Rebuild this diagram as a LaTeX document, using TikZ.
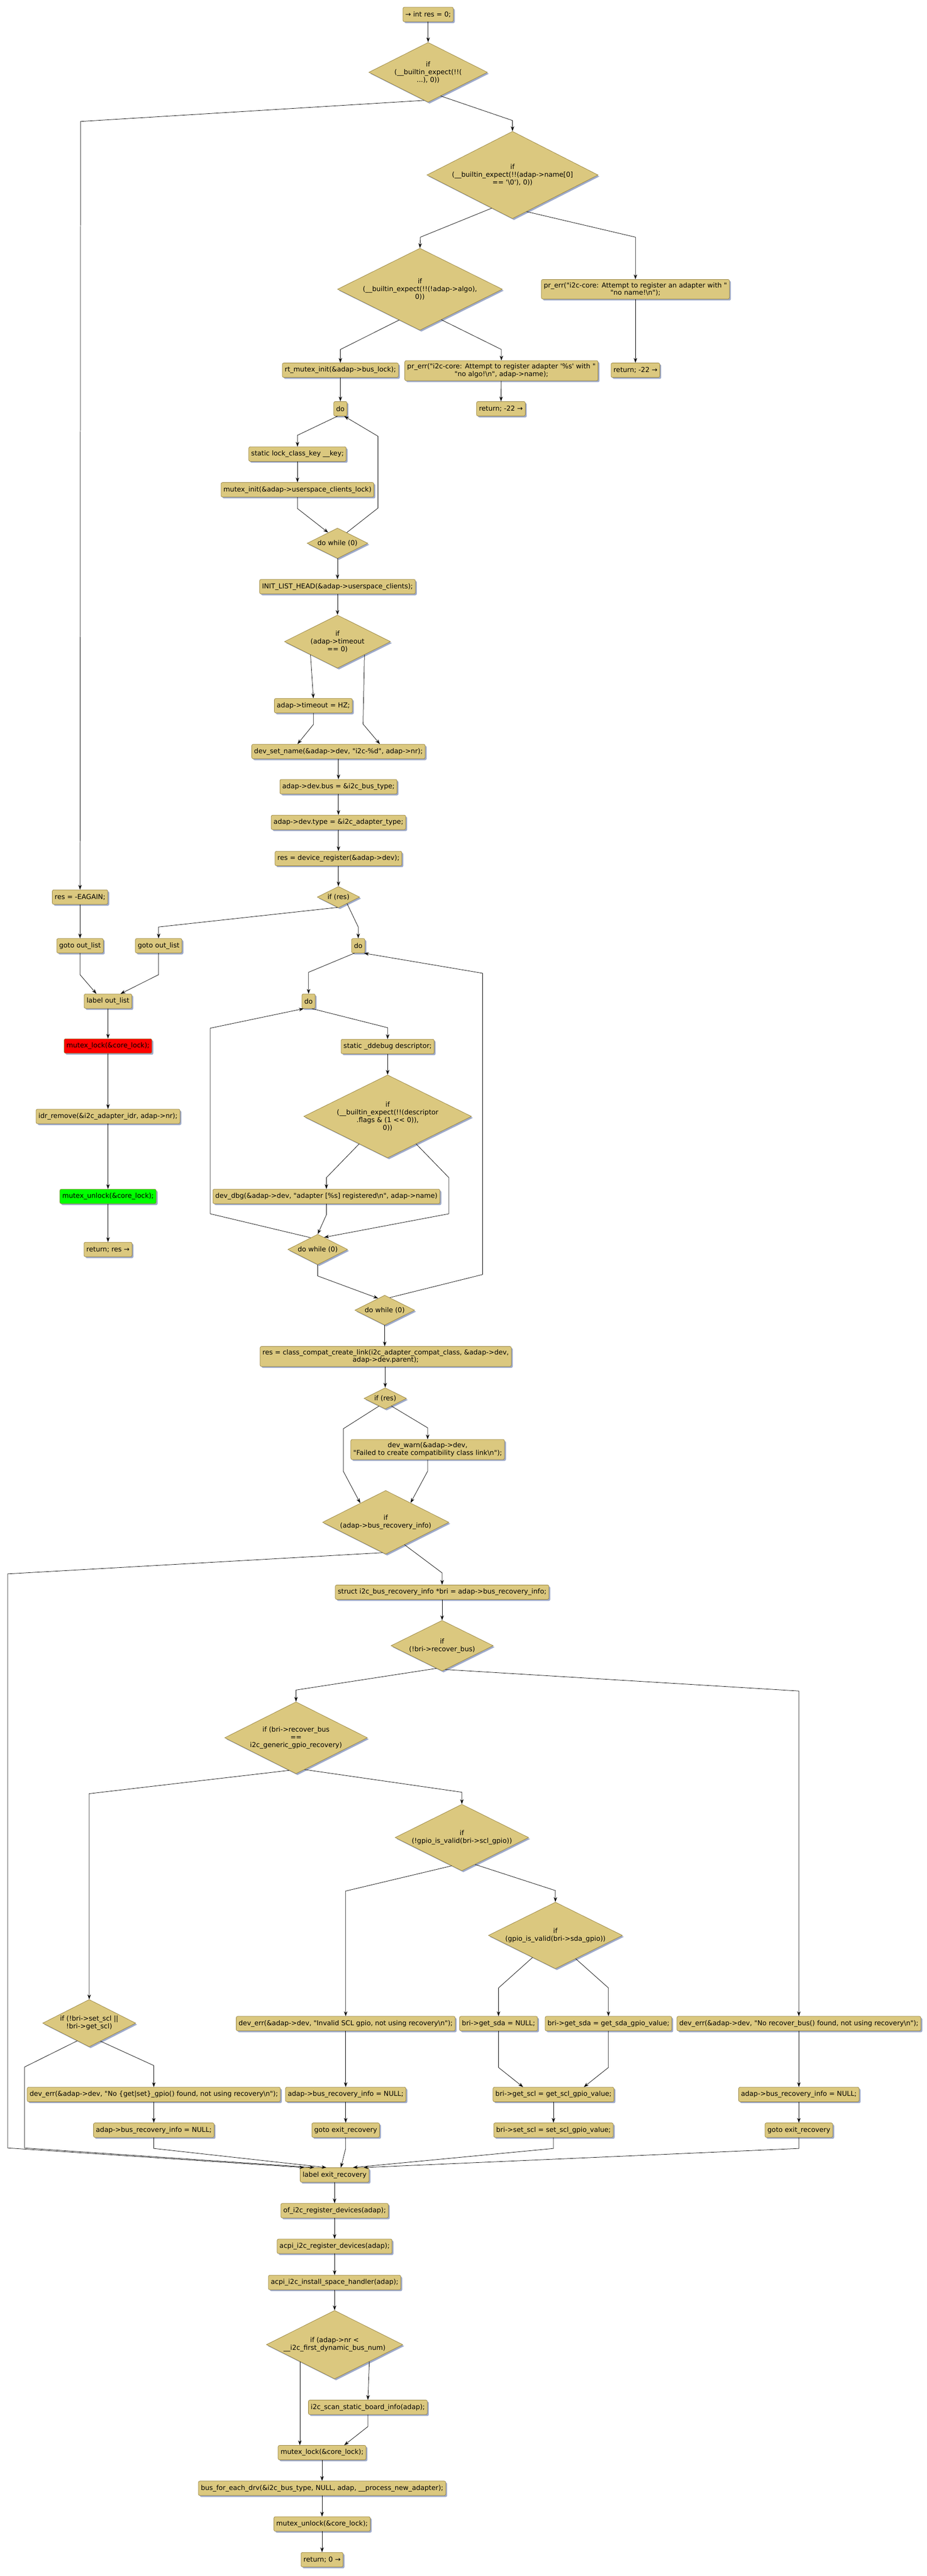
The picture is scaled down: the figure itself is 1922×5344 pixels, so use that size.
\documentclass[tikz,border=0pt]{standalone}
\usepackage{fontspec}
\newfontfamily\flowfont{DejaVu Sans}
\usetikzlibrary{shapes.geometric, arrows.meta, shadows, calc}
\definecolor{boxfill}{RGB}{219,200,127}
\definecolor{boxline}{RGB}{150,130,62}
\definecolor{boxshade}{RGB}{158,170,202}
\definecolor{hotred}{RGB}{255,0,0}
\definecolor{hotgreen}{RGB}{0,255,0}
\newcommand{\escn}{\textbackslash n}

\begin{document}
\begin{tikzpicture}[x=1pt,y=-1pt,>={Stealth[length=10pt,width=7pt]},line width=0.8pt,
  every node/.style={font=\flowfont\fontsize{14}{16}\selectfont},
  stmt/.style={draw=boxline,fill=boxfill,rounded corners=3pt,align=center,inner xsep=5pt,inner ysep=6pt,minimum height=30pt,drop shadow={shadow xshift=3pt,shadow yshift=-3pt,fill=boxshade,opacity=1}},
  cond/.style 2 args={diamond,draw=boxline,fill=boxfill,align=center,inner sep=0pt,minimum width=#1,minimum height=#2,/utils/exec={\pgfmathsetmacro\condaspect{#1/#2}},aspect=\condaspect,drop shadow={shadow xshift=3pt,shadow yshift=-3pt,fill=boxshade,opacity=1}}]
  \useasboundingbox (0,0) rectangle (1922,5344);

  \node[stmt] (start) at (888,30) {→ int res = 0;};
  \node[cond={246}{124}] (ifagain) at (888,150) {if\\(\_\_builtin\_expect(!!(\\...), 0))};
  \node[cond={355}{181}] (ifname) at (1063,363) {if\\(\_\_builtin\_expect(!!(adap->name[0]\\== '\textbackslash0'), 0))};
  \node[cond={342}{170}] (ifalgo) at (871,600) {if\\(\_\_builtin\_expect(!!(!adap->algo),\\0))};
  \node[stmt] (errname) at (1318,600) {pr\_err("i2c-core: Attempt to register an adapter with "\\"no name!\escn");};
  \node[stmt] (retname) at (1318,768) {return; -22 →};
  \node[stmt] (rtlock) at (706,768) {rt\_mutex\_init(\&adap->bus\_lock);};
  \node[stmt] (erralgo) at (1040,769) {pr\_err("i2c-core: Attempt to register adapter '\%s' with "\\"no algo!\escn", adap->name);};
  \node[stmt] (retalgo) at (1039,848) {return; -22 →};
  \node[stmt] (do1) at (706,848) {do};
  \node[stmt] (key) at (617,942) {static lock\_class\_key \_\_key;};
  \node[stmt] (mxinit) at (617,1016) {mutex\_init(\&adap->userspace\_clients\_lock)};
  \node[cond={126}{63}] (dw1) at (700,1127) {do while (0)};
  \node[stmt] (initlist) at (700,1217) {INIT\_LIST\_HEAD(\&adap->userspace\_clients);};
  \node[cond={220}{110}] (iftmo) at (700,1331) {if\\(adap->timeout\\== 0)};
  \node[stmt] (tmo) at (650,1464) {adap->timeout = HZ;};
  \node[stmt] (setname) at (702,1559) {dev\_set\_name(\&adap->dev, "i2c-\%d", adap->nr);};
  \node[stmt] (devbus) at (702,1632) {adap->dev.bus = \&i2c\_bus\_type;};
  \node[stmt] (devtype) at (702,1706) {adap->dev.type = \&i2c\_adapter\_type;};
  \node[stmt] (devreg) at (702,1781) {res = device\_register(\&adap->dev);};
  \node[cond={88}{44}] (ifres1) at (702,1861) {if (res)};
  \node[stmt] (eagain) at (166,1861) {res = -EAGAIN;};
  \node[stmt] (goto1) at (166,1962) {goto out\_list};
  \node[stmt] (goto2) at (329,1962) {goto out\_list};
  \node[stmt] (do2) at (743,1962) {do};
  \node[stmt] (outlist) at (224,2077) {label out\_list};
  \node[stmt,fill=hotred] (lock1) at (224,2170) {mutex\_lock(\&core\_lock);};
  \node[stmt] (idr) at (224,2316) {idr\_remove(\&i2c\_adapter\_idr, adap->nr);};
  \node[stmt,fill=hotgreen] (unlock1) at (224,2482) {mutex\_unlock(\&core\_lock);};
  \node[stmt] (retres) at (224,2592) {return; res →};
  \node[stmt] (do3) at (640,2077) {do};
  \node[stmt] (ddebug) at (804,2171) {static \_ddebug descriptor;};
  \node[cond={348}{172}] (ifdbg) at (804,2316) {if\\(\_\_builtin\_expect(!!(descriptor\\.flags \& (1 << 0)),\\0))};
  \node[stmt] (devdbg) at (677,2482) {dev\_dbg(\&adap->dev, "adapter [\%s] registered\escn", adap->name)};
  \node[cond={124}{63}] (dw2) at (659,2592) {do while (0)};
  \node[cond={124}{62}] (dw3) at (798,2718) {do while (0)};
  \node[stmt] (compat) at (800,2814) {res = class\_compat\_create\_link(i2c\_adapter\_compat\_class, \&adap->dev,\\adap->dev.parent);};
  \node[cond={88}{44}] (ifres2) at (799,2901) {if (res)};
  \node[stmt] (devwarn) at (887,3007) {dev\_warn(\&adap->dev,\\"Failed to create compatibility class link\escn");};
  \node[cond={262}{132}] (ifbri) at (800,3158) {if\\(adap->bus\_recovery\_info)};
  \node[stmt] (bri) at (917,3303) {struct i2c\_bus\_recovery\_info *bri = adap->bus\_recovery\_info;};
  \node[cond={212}{105}] (ifrec) at (917,3414) {if\\(!bri->recover\_bus)};
  \node[cond={296}{149}] (ifgen) at (614,3605) {if (bri->recover\_bus\\==\\i2c\_generic\_gpio\_recovery)};
  \node[cond={277}{138}] (ifscl) at (958,3812) {if\\(!gpio\_is\_valid(bri->scl\_gpio))};
  \node[cond={278}{138}] (ifsda) at (1152,4015) {if\\(gpio\_is\_valid(bri->sda\_gpio))};
  \node[cond={193}{98}] (ifset) at (185,4197) {if (!bri->set\_scl ||\\!bri->get\_scl)};
  \node[stmt] (errscl) at (717,4198) {dev\_err(\&adap->dev, "Invalid SCL gpio, not using recovery\escn");};
  \node[stmt] (sdanull) at (1034,4198) {bri->get\_sda = NULL;};
  \node[stmt] (sdagpio) at (1262,4198) {bri->get\_sda = get\_sda\_gpio\_value;};
  \node[stmt] (errrec) at (1657,4198) {dev\_err(\&adap->dev, "No recover\_bus() found, not using recovery\escn");};
  \node[stmt] (errgpio) at (319,4345) {dev\_err(\&adap->dev, "No \{get|set\}\_gpio() found, not using recovery\escn");};
  \node[stmt] (null1) at (319,4419) {adap->bus\_recovery\_info = NULL;};
  \node[stmt] (null2) at (717,4345) {adap->bus\_recovery\_info = NULL;};
  \node[stmt] (getscl) at (1148,4345) {bri->get\_scl = get\_scl\_gpio\_value;};
  \node[stmt] (null3) at (1657,4345) {adap->bus\_recovery\_info = NULL;};
  \node[stmt] (goto3) at (717,4419) {goto exit\_recovery};
  \node[stmt] (setscl) at (1148,4419) {bri->set\_scl = set\_scl\_gpio\_value;};
  \node[stmt] (goto4) at (1657,4419) {goto exit\_recovery};
  \node[stmt] (exitrec) at (694,4512) {label exit\_recovery};
  \node[stmt] (ofreg) at (694,4586) {of\_i2c\_register\_devices(adap);};
  \node[stmt] (acpireg) at (694,4660) {acpi\_i2c\_register\_devices(adap);};
  \node[stmt] (acpispace) at (694,4735) {acpi\_i2c\_install\_space\_handler(adap);};
  \node[cond={283}{142}] (ifnr) at (694,4864) {if (adap->nr <\\\_\_i2c\_first\_dynamic\_bus\_num)};
  \node[stmt] (scan) at (763,4994) {i2c\_scan\_static\_board\_info(adap);};
  \node[stmt] (lock2) at (668,5088) {mutex\_lock(\&core\_lock);};
  \node[stmt] (busfor) at (668,5162) {bus\_for\_each\_drv(\&i2c\_bus\_type, NULL, adap, \_\_process\_new\_adapter);};
  \node[stmt] (unlock2) at (668,5236) {mutex\_unlock(\&core\_lock);};
  \node[stmt] (ret0) at (668,5310) {return; 0 →};

  \draw[->] (start) -- (ifagain);
  \draw[->] (ifagain.262) -- (167,252) -- (eagain.north);
  \draw[->] (ifagain.298) -- (1063,250) -- (ifname.north);
  \draw[->] (ifname.238) -- (872,492) -- (ifalgo.north);
  \draw[->] (ifname.291) -- (1318,492) -- (errname.north);
  \draw[->] (errname) -- (retname);
  \draw[->] (ifalgo.236) -- (706,725) -- (rtlock.north);
  \draw[->] (ifalgo.305) -- (1040,725) -- (erralgo.north);
  \draw[->] (erralgo) -- (retalgo);
  \draw[->] (rtlock) -- (do1);
  \draw[->] ([xshift=-6]do1.south) -- (617,903) -- (key.north);
  \draw[->] (key) -- (mxinit);
  \draw[->] (mxinit.south) -- (617,1055) -- (dw1.131);
  \draw[->] (dw1.49) -- (784,1054) -- (784,905) -- ([xshift=8]do1.south);
  \draw[->] (dw1) -- (initlist);
  \draw[->] (initlist) -- (iftmo);
  \draw[->] (iftmo.206) -- (tmo.north);
  \draw[->] (iftmo.334) -- (753,1502) -- ([xshift=86]setname.north);
  \draw[->] (tmo.south) -- (650,1503) -- ([xshift=-85]setname.north);
  \draw[->] (setname) -- (devbus);
  \draw[->] (devbus) -- (devtype);
  \draw[->] (devtype) -- (devreg);
  \draw[->] (devreg) -- (ifres1);
  \draw[->] (ifres1.265) -- (329,1923) -- (goto2.north);
  \draw[->] (ifres1.323) -- (743,1923) -- (do2.north);
  \draw[->] (eagain) -- (goto1);
  \draw[->] (goto1.south) -- (166,2022) -- ([xshift=-24]outlist.north);
  \draw[->] (goto2.south) -- (329,2022) -- ([xshift=26]outlist.north);
  \draw[->] (outlist) -- (lock1);
  \draw[->] (lock1) -- (idr);
  \draw[->] (idr) -- (unlock1);
  \draw[->] (unlock1) -- (retres);
  \draw[->] ([xshift=-8]do2.south) -- (640,2017) -- (do3.north);
  \draw[->] (dw3.68) -- (1001,2644) -- (1001,2019) -- ([xshift=12]do2.south);
  \draw[->] ([xshift=7]do3.south) -- (804,2132) -- (ddebug.north);
  \draw[->] (ddebug) -- (ifdbg);
  \draw[->] (ifdbg.224) -- (677,2443) -- (devdbg.north);
  \draw[->] (ifdbg.316) -- (931,2443) -- (931,2518) -- (dw2.62);
  \draw[->] (devdbg.south) -- (677,2520) -- (dw2.north);
  \draw[->] (dw2.121) -- (436,2518) -- (436,2133) -- ([xshift=-10]do3.south);
  \draw[->] (dw2.south) -- (659,2647) -- (dw3.119);
  \draw[->] (dw3.south) -- (dw3.south |- compat.north);
  \draw[->] (compat.south -| ifres2.north) -- (ifres2.north);
  \draw[->] (ifres2.231) -- (712,2964) -- (712,3052) -- (ifbri.143);
  \draw[->] (ifres2.309) -- (887,2962) -- (devwarn.north);
  \draw[->] (devwarn.south) -- (887,3052) -- (ifbri.38);
  \draw[->] (ifbri.264) -- (16,3265) -- (16,4456) -- ([xshift=-63]exitrec.north);
  \draw[->] (ifbri.310) -- (917,3263) -- (bri.north);
  \draw[->] (bri) -- (ifrec);
  \draw[->] (ifrec.256) -- (614,3506) -- (ifgen.north);
  \draw[->] (ifrec.278) -- (1657,3508) -- (errrec.north);
  \draw[->] (ifgen.258) -- (185,3721) -- (ifset.north);
  \draw[->] (ifgen.285) -- (958,3718) -- (ifscl.north);
  \draw[->] (ifscl.250) -- (717,3923) -- (errscl.north);
  \draw[->] (ifscl.296) -- (1152,3922) -- (ifsda.north);
  \draw[->] (ifsda.224) -- (1034,4124) -- (sdanull.north);
  \draw[->] (ifsda.311) -- (1262,4124) -- (sdagpio.north);
  \draw[->] (sdanull.south) -- (1034,4289) -- ([xshift=-63]getscl.north);
  \draw[->] (sdagpio.south) -- (1262,4289) -- ([xshift=63]getscl.north);
  \draw[->] (getscl) -- (setscl);
  \draw[->] (setscl.south) -- (1148,4457) -- ([xshift=38]exitrec.north);
  \draw[->] (ifset.236) -- (51,4288) -- (51,4456) -- ([xshift=-42]exitrec.north);
  \draw[->] (ifset.302) -- (319,4285) -- (errgpio.north);
  \draw[->] (errgpio) -- (null1);
  \draw[->] (null1.south) -- (319,4457) -- ([xshift=-17]exitrec.north);
  \draw[->] (errscl) -- (null2);
  \draw[->] (null2) -- (goto3);
  \draw[->] (goto3.south) -- (717,4457) -- ([xshift=13]exitrec.north);
  \draw[->] (errrec) -- (null3);
  \draw[->] (null3) -- (goto4);
  \draw[->] (goto4.south) -- (1657,4457) -- ([xshift=60]exitrec.north);
  \draw[->] (exitrec) -- (ofreg);
  \draw[->] (ofreg) -- (acpireg);
  \draw[->] (acpireg) -- (acpispace);
  \draw[->] (acpispace) -- (ifnr);
  \draw[->] (ifnr.206) -- (ifnr.206 |- lock2.north);
  \draw[->] (ifnr.334) -- (scan.north);
  \draw[->] (scan.south) -- (763,5034) -- ([xshift=46]lock2.north);
  \draw[->] (lock2) -- (busfor);
  \draw[->] (busfor) -- (unlock2);
  \draw[->] (unlock2) -- (ret0);
\end{tikzpicture}
\end{document}
